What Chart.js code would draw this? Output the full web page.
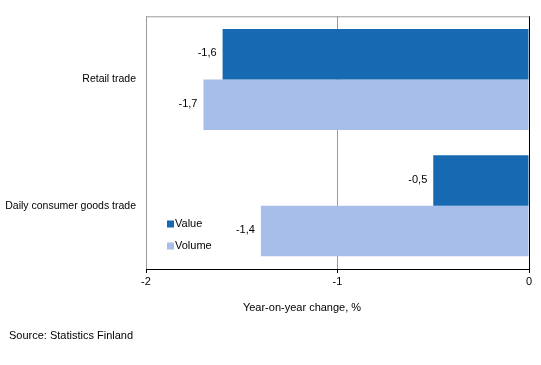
<!DOCTYPE html>
<html>
<head>
<meta charset="utf-8">
<script src="https://cdn.jsdelivr.net/npm/chart.js@4/dist/chart.umd.min.js"></script>
<style>
  body { margin: 0; background: #fff; }
  #wrap { width: 541px; height: 365px; position: relative; }
</style>
</head>
<body>
<div id="wrap"><canvas id="grafico"></canvas></div>
<script>
// DATOS
const categorias = ["Retail trade", "Daily consumer goods trade"];
const valores = [-1.6, -0.5];
const volumenes = [-1.7, -1.4];
const series = ["Value", "Volume"];
const ejeTitulo = "Year-on-year change, %";
const fuente = "Source: Statistics Finland";

const colores = ["#1769b1", "#a7bdea"];

Chart.defaults.font.family = "'Liberation Sans', Arial, sans-serif";
Chart.defaults.font.size = 11;
Chart.defaults.color = "#000";

function formatear(v) {
  return v.toFixed(1).replace(".", ",");
}

// ETIQUETAS, LEYENDA, TEXTOS
const extras = {
  id: "extras",
  afterDatasetsDraw(chart) {
    const ctx = chart.ctx;
    const area = chart.chartArea;
    ctx.save();
    ctx.font = "11px 'Liberation Sans', Arial, sans-serif";
    ctx.fillStyle = "#000";

    // borde superior
    ctx.strokeStyle = "#999";
    ctx.lineWidth = 1;
    ctx.beginPath();
    ctx.moveTo(area.left, area.top + 0.5);
    ctx.lineTo(area.right, area.top + 0.5);
    ctx.stroke();

    // etiquetas de barras
    ctx.textAlign = "right";
    ctx.textBaseline = "middle";
    chart.data.datasets.forEach((ds, i) => {
      chart.getDatasetMeta(i).data.forEach((bar, j) => {
        ctx.fillText(formatear(ds.data[j]), bar.x - 6, bar.y - 1);
      });
    });

    // leyenda
    ctx.textAlign = "left";
    series.forEach((s, i) => {
      const y = 224 + i * 22;
      ctx.fillStyle = colores[i];
      ctx.fillRect(167, y - 3.5, 7, 7);
      ctx.fillStyle = "#000";
      ctx.fillText(s, 175, y);
    });

    // titulo eje y fuente
    ctx.textAlign = "center";
    ctx.fillText(ejeTitulo, 302, 308);
    ctx.textAlign = "left";
    ctx.fillText(fuente, 9, 336);
    ctx.restore();
  }
};

new Chart(document.getElementById("grafico"), {
  type: "bar",
  data: {
    labels: categorias,
    datasets: [
      { label: series[0], data: valores, backgroundColor: colores[0] },
      { label: series[1], data: volumenes, backgroundColor: colores[1] }
    ]
  },
  options: {
    indexAxis: "y",
    responsive: true,
    maintainAspectRatio: false,
    animation: false,
    categoryPercentage: 0.8,
    barPercentage: 1,
    layout: { padding: { top: 16, right: 12, left: 0, bottom: 0 } },
    plugins: {
      legend: { display: false },
      tooltip: { enabled: false }
    },
    scales: {
      x: {
        min: -2,
        max: 0,
        ticks: { stepSize: 1, padding: 2, color: "#000" },
        border: { color: "#000" },
        grid: {
          color: c => c.tick && c.tick.value === 0 ? "#000" : "#999",
          tickColor: "#000",
          tickLength: 4
        },
        afterFit: s => { s.height = 96; }
      },
      y: {
        ticks: { padding: 10, color: "#000", font: { size: 10.5 } },
        border: { display: false },
        grid: { display: false, drawTicks: false },
        afterFit: s => { s.width = 146; }
      }
    }
  },
  plugins: [extras]
});
</script>
</body>
</html>
